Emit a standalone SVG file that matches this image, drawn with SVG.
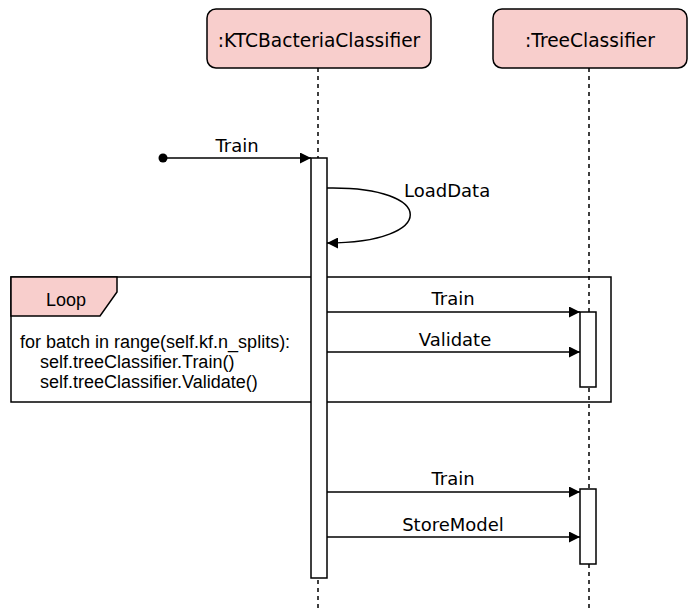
<svg xmlns="http://www.w3.org/2000/svg" width="692" height="608" viewBox="0 0 692 608">
  <style>
    .head { fill: #f8cecc; stroke: #000; stroke-width: 1.5; }
    .life { stroke: #000; stroke-width: 1.5; stroke-dasharray: 4 4; fill: none; }
    .bar { fill: #fff; stroke: #000; stroke-width: 1.5; }
    .msg { stroke: #000; stroke-width: 1.5; fill: none; }
    .lbl { font-family: "DejaVu Sans", Verdana, sans-serif; font-size: 18px; fill: #000; }
    .title { font-size: 18.6px; }
    .code { font-family: "Liberation Sans", Arial, sans-serif; font-size: 18px; fill: #000; }
  </style>
  <defs>
    <marker id="arrow" viewBox="0 0 10 10" refX="10" refY="5" markerWidth="11" markerHeight="11" markerUnits="userSpaceOnUse" orient="auto">
      <path d="M0,0 L10,5 L0,10 Z" fill="#000"/>
    </marker>
    <marker id="dot" viewBox="0 0 10 10" refX="5" refY="5" markerWidth="10" markerHeight="10" markerUnits="userSpaceOnUse">
      <circle cx="5" cy="5" r="4.5" fill="#000"/>
    </marker>
  </defs>

  <rect width="692" height="608" fill="#fff"/>

  <!-- loop fragment -->
  <g id="loop">
    <rect x="11" y="277" width="600" height="125" fill="#fff" stroke="#000" stroke-width="1.5"/>
    <path d="M11,277 L117,277 L117,292 L100,316 L11,316 Z" class="head"/>
    <text x="66" y="306" class="code" text-anchor="middle">Loop</text>
    <text x="20" y="348" class="code">for batch in range(self.kf.n_splits):</text>
    <text x="40" y="368" class="code">self.treeClassifier.Train()</text>
    <text x="40" y="388" class="code">self.treeClassifier.Validate()</text>
  </g>

  <!-- lifelines -->
  <g id="ktc">
    <line x1="318" y1="68" x2="318" y2="608" class="life"/>
    <rect x="207" y="9" width="224" height="59" rx="9" class="head"/>
    <text x="319" y="47" class="lbl title" text-anchor="middle">:KTCBacteriaClassifier</text>
    <rect x="311" y="158" width="16" height="420" class="bar"/>
  </g>

  <g id="tree">
    <line x1="589" y1="68" x2="589" y2="608" class="life"/>
    <rect x="493" y="9" width="194" height="59" rx="9" class="head"/>
    <text x="590" y="47" class="lbl title" text-anchor="middle">:TreeClassifier</text>
    <rect x="580" y="312" width="16" height="75" class="bar"/>
    <rect x="580" y="489" width="16" height="75" class="bar"/>
  </g>

  <!-- messages -->
  <g id="connectors">
    <line x1="163" y1="158" x2="311" y2="158" class="msg" marker-start="url(#dot)" marker-end="url(#arrow)"/>
    <text x="237" y="152" class="lbl" text-anchor="middle">Train</text>

    <path d="M327,188 C438,186 438,243 327,243" class="msg" marker-end="url(#arrow)"/>
    <text x="404" y="197" class="lbl">LoadData</text>

    <line x1="327" y1="312" x2="580" y2="312" class="msg" marker-end="url(#arrow)"/>
    <text x="453" y="305" class="lbl" text-anchor="middle">Train</text>

    <line x1="327" y1="352" x2="580" y2="352" class="msg" marker-end="url(#arrow)"/>
    <text x="455" y="346" class="lbl" text-anchor="middle">Validate</text>

    <line x1="327" y1="492" x2="580" y2="492" class="msg" marker-end="url(#arrow)"/>
    <text x="453" y="485" class="lbl" text-anchor="middle">Train</text>

    <line x1="327" y1="537" x2="580" y2="537" class="msg" marker-end="url(#arrow)"/>
    <text x="453" y="531" class="lbl" text-anchor="middle">StoreModel</text>
  </g>
</svg>
